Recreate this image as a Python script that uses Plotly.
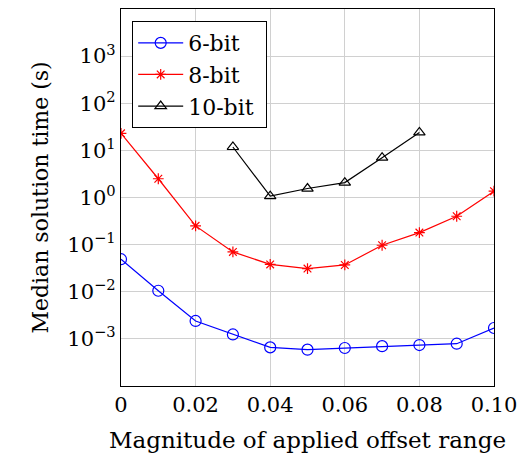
import plotly.graph_objects as go

x = [0.00, 0.01, 0.02, 0.03, 0.04, 0.05, 0.06, 0.07, 0.08, 0.09, 0.10]
bit6 = [0.049, 0.0105, 0.0024, 0.00124, 0.00066, 0.00059, 0.00064, 0.00070, 0.00074, 0.00079, 0.0017]
bit8 = [23, 2.5, 0.25, 0.070, 0.038, 0.031, 0.037, 0.097, 0.18, 0.40, 1.36]
x10 = [0.03, 0.04, 0.05, 0.06, 0.07, 0.08]
bit10 = [11.8, 1.07, 1.55, 2.07, 7.0, 24]

xticks = [0, 0.02, 0.04, 0.06, 0.08, 0.10]
xticktext = ["0", "0.02", "0.04", "0.06", "0.08", "0.10"]
yticks = [1e-3, 1e-2, 1e-1, 1e0, 1e1, 1e2, 1e3]
yticktext = ["10<sup>−3</sup>", "10<sup>−2</sup>", "10<sup>−1</sup>", "10<sup>0</sup>",
             "10<sup>1</sup>", "10<sup>2</sup>", "10<sup>3</sup>"]

FONT = "DejaVu Serif"

fig = go.Figure()
fig.add_trace(go.Scatter(x=x, y=bit6, name="6-bit ", mode="lines+markers",
                         line=dict(color="#0000ff", width=1.2),
                         marker=dict(symbol="circle-open", size=11, color="#0000ff",
                                     line=dict(width=1.2))))
fig.add_trace(go.Scatter(x=x, y=bit8, name="8-bit ", mode="lines+markers",
                         line=dict(color="#ff0000", width=1.2),
                         marker=dict(symbol="asterisk-open", size=9, color="#ff0000",
                                     line=dict(width=1.2, color="#ff0000"))))
fig.add_trace(go.Scatter(x=x10, y=bit10, name="10-bit ", mode="lines+markers",
                         line=dict(color="#000000", width=1.2),
                         marker=dict(symbol="triangle-up-open", size=10, color="#000000",
                                     line=dict(width=1.2))))

fig.update_layout(
    width=525, height=460,
    margin=dict(l=121, r=27, t=8, b=74),
    paper_bgcolor="white", plot_bgcolor="white",
    font=dict(family=FONT, size=21, color="black"),
    showlegend=True,
    legend=dict(x=0.03, y=0.968, xanchor="left", yanchor="top",
                bordercolor="black", borderwidth=1, bgcolor="white",
                font=dict(size=22), itemwidth=45, tracegroupgap=0),
    xaxis=dict(range=[0, 0.10], tickvals=xticks, ticktext=xticktext,
               showgrid=True, gridcolor="#d0d0d0", gridwidth=1,
               showline=True, linecolor="black", linewidth=1.2, mirror=True,
               ticks="", zeroline=False,
               title=dict(text="Magnitude of applied offset range", standoff=15,
                          font=dict(size=23))),
    yaxis=dict(type="log", range=[-4, 4], tickvals=yticks, ticktext=yticktext,
               showgrid=True, gridcolor="#d0d0d0", gridwidth=1,
               showline=True, linecolor="black", linewidth=1.2, mirror=True,
               ticks="", zeroline=False,
               title=dict(text="Median solution time (s)", standoff=12,
                          font=dict(size=22))),
)

fig.write_html("out.html")
